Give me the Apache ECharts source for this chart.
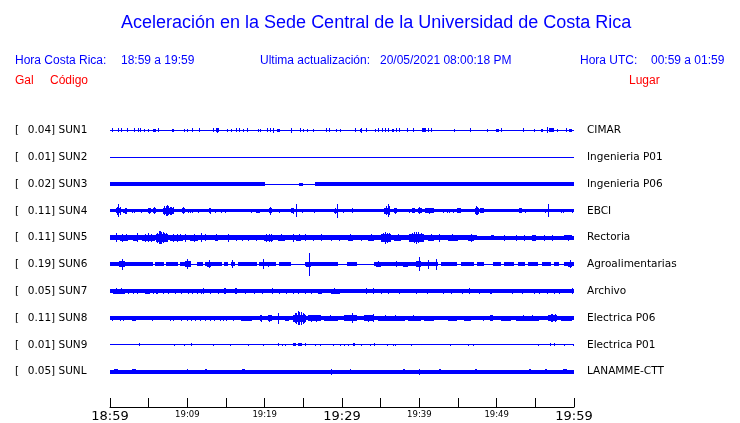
<!DOCTYPE html>
<html>
<head>
<meta charset="utf-8">
<script src="https://cdn.jsdelivr.net/npm/echarts@6/dist/echarts.min.js"></script>
<style>html,body{margin:0;padding:0;background:#fff}#c{width:740px;height:423px}</style>
</head>
<body>
<div id="c"></div>
<script>
// ---------- data ----------
const traceCodes = ['SUN1','SUN2','SUN3','SUN4','SUN5','SUN6','SUN7','SUN8','SUN9','SUNL'];
const traceMax = ['0.04','0.01','0.02','0.11','0.11','0.19','0.05','0.11','0.01','0.05'];
const tracePlaces = ['CIMAR','Ingenieria P01','Ingenieria P06','EBCI','Rectoria','Agroalimentarias','Archivo','Electrica P06','Electrica P01','LANAMME-CTT'];
const timeTicks = ['18:59','','19:09','','19:19','','19:29','','19:39','','19:49','','19:59'];
const majorTicks = ['18:59','19:29','19:59'];

// base band per trace: [startMin, endMin, halfAmplitudeGal]
const baseSUN1 = [[0,60,0.008]];
const baseSUN2 = [[0,60,0.008]];
const baseSUN3 = [[0,20.0,0.03],[20.0,26.45,0.008],[26.45,60,0.03]];
const baseSUN4 = [[0,60,0.027]];
const baseSUN5 = [[0,47.5,0.038],[47.5,60,0.035]];
const baseSUN6 = [[0,60,0.008],[0,5.5,0.034],[5.8,7.0,0.028],[7.3,8.8,0.028],[9.1,10.4,0.028],[11.2,12.0,0.028],[12.3,14.5,0.028],[14.8,15.2,0.028],[15.7,16.2,0.028],[16.5,19.0,0.028],[19.3,21.5,0.028],[21.8,23.4,0.028],[25.2,29.5,0.028],[30.7,32.0,0.028],[34.1,42.4,0.028],[42.8,44.9,0.028],[45.4,47.1,0.028],[47.5,48.4,0.028],[49.5,50.5,0.028],[50.97,52.3,0.028],[52.7,53.6,0.028],[54.0,55.3,0.028],[55.9,57.0,0.028],[57.4,58.1,0.028],[58.7,60,0.028]];
const baseSUN7 = [[0,60,0.03]];
const baseSUN8 = [[0,17,0.028],[17,60,0.032]];
const baseSUN9 = [[0,60,0.008]];
const baseSUNL = [[0,60,0.028]];

// events: [minute, halfAmpGal] for spikes, [startMin, endMin, halfAmpGal] for bursts
const evSUN1 = [[0.3,0.032],[1.08,0.032],[1.38,0.032],[2.15,0.032],[3.1,0.032],[3.66,0.032],[3.91,0.032],[4.43,0.02],[4.86,0.024],[5.59,5.89,0.024],[6.15,0.032],[7.96,8.3,0.024],[9.59,0.024],[10.02,0.024],[10.62,0.032],[11.48,0.032],[13.33,0.032],[13.68,14.11,0.03],[13.9,0.04],[15.18,0.024],[15.61,0.024],[16.34,0.032],[16.69,0.032],[17.2,0.024],[17.76,0.032],[19.14,0.024],[19.44,0.024],[20.3,0.032],[20.73,0.032],[21.08,0.04],[21.63,21.94,0.024],[23.35,23.53,0.024],[23.45,0.04],[24.52,0.032],[24.95,0.024],[25.46,0.024],[26.24,0.024],[27.87,0.032],[28.3,0.032],[29.25,0.024],[29.68,29.9,0.024],[31.7,0.032],[32.39,32.56,0.024],[32.45,0.04],[33.12,0.032],[34.28,0.024],[34.71,0.032],[35.18,0.032],[35.57,0.032],[35.91,0.032],[36.47,36.69,0.024],[36.99,0.032],[37.33,0.032],[38.37,0.032],[39.14,0.032],[40.34,40.86,0.028],[41.16,0.032],[41.5,0.032],[44.52,0.024],[46.54,0.032],[48.69,0.024],[49.89,50.32,0.024],[50.62,0.032],[53.46,0.032],[54.84,0.024],[55.7,56.04,0.024],[56.47,0.045],[56.77,57.42,0.028],[57.0,0.035],[57.85,0.024],[58.92,0.032],[59.35,59.78,0.024]];
const evSUN2 = [];
const evSUN3 = [[24.5,25.0,0.026]];
const evSUN4 = [[0.77,1.42,0.04],[0.9,0.06],[1.08,0.105],[1.25,0.06],[1.72,2.24,0.035],[1.9,0.05],[2.1,0.045],[2.8,0.035],[3.14,0.035],[3.96,0.03],[4.86,5.29,0.04],[5.0,0.05],[5.59,5.89,0.04],[5.7,0.055],[6.9,8.3,0.045],[7.0,0.07],[7.2,0.08],[7.35,0.09],[7.5,0.075],[7.7,0.065],[7.9,0.06],[8.1,0.055],[9.33,9.76,0.04],[9.5,0.055],[10.1,0.035],[10.4,0.035],[10.6,0.035],[11.4,0.035],[12.8,13.1,0.04],[12.95,0.05],[13.55,0.035],[14.3,0.035],[14.9,0.035],[18.28,0.03],[18.9,19.35,0.035],[20.56,20.95,0.04],[20.7,0.065],[21.8,0.03],[23.35,23.8,0.04],[23.6,0.05],[24.09,0.105],[24.8,0.03],[26.37,0.03],[28.95,29.46,0.035],[29.1,0.05],[29.33,0.11],[30.1,0.035],[31.27,0.04],[35.48,36.26,0.045],[35.7,0.07],[35.91,0.1],[36.05,0.07],[36.77,37.1,0.04],[36.9,0.05],[38.6,0.035],[39.1,39.4,0.04],[39.8,40.3,0.042],[40.0,0.055],[40.7,41.9,0.04],[41.2,0.05],[43.0,0.035],[43.6,0.035],[43.9,0.035],[44.3,0.035],[44.9,45.4,0.038],[47.2,47.7,0.045],[47.35,0.07],[47.5,0.065],[47.9,48.4,0.04],[52.9,53.3,0.04],[53.7,0.03],[56.3,0.035],[56.7,0.1],[58.3,0.03],[58.6,0.03],[59.8,0.035]];
const evSUN5 = [[0.73,0.07],[1.29,2.37,0.048],[1.6,0.06],[2.1,0.055],[3.0,3.66,0.05],[3.44,0.075],[4.09,5.8,0.048],[4.5,0.06],[4.86,0.07],[5.3,0.06],[5.9,7.5,0.065],[6.1,0.08],[6.3,0.1],[6.45,0.105],[6.6,0.095],[6.8,0.085],[7.0,0.075],[7.2,0.07],[7.74,9.46,0.048],[8.1,0.06],[8.6,0.065],[9.0,0.055],[9.68,0.065],[10.3,11.4,0.048],[10.8,0.06],[11.83,0.075],[12.26,0.055],[13.55,13.98,0.045],[13.7,0.055],[15.27,0.06],[16.34,0.05],[17.08,0.05],[17.85,0.05],[18.9,0.05],[19.9,21.08,0.05],[20.2,0.06],[20.5,0.065],[20.8,0.06],[21.7,22.6,0.045],[22.1,0.055],[23.66,0.06],[24.1,24.7,0.045],[24.4,0.055],[25.16,0.055],[26.3,0.05],[27.3,0.055],[28.6,0.05],[29.6,0.05],[30.75,31.4,0.045],[31.0,0.055],[32.47,0.05],[33.3,34.2,0.045],[33.7,0.055],[35.05,36.34,0.06],[35.3,0.075],[35.57,0.095],[35.8,0.08],[36.1,0.07],[36.77,37.63,0.045],[37.2,0.055],[38.7,40.65,0.06],[39.0,0.07],[39.3,0.085],[39.57,0.095],[39.8,0.085],[40.2,0.07],[41.08,41.94,0.048],[41.5,0.055],[42.58,0.06],[43.66,44.95,0.045],[44.2,0.055],[46.24,47.1,0.05],[46.67,0.065],[49.25,49.68,0.042],[50.97,0.045],[52.47,0.045],[53.55,0.045],[54.6,55.05,0.045],[54.8,0.05],[56.13,0.045],[57.2,0.045],[58.7,59.8,0.042],[59.2,0.05]];
const evSUN6 = [[1.1,1.9,0.045],[1.5,0.085],[9.7,10.45,0.045],[10.0,0.08],[12.5,13.1,0.04],[12.8,0.06],[15.8,0.06],[19.8,0.08],[20.4,0.04],[25.4,26.0,0.04],[25.7,0.185],[34.4,35.0,0.04],[34.6,0.05],[37.0,0.05],[37.85,38.5,0.04],[39.6,40.2,0.045],[39.9,0.115],[41.1,0.07],[42.15,0.085],[59.2,59.8,0.04],[59.5,0.06]];
const evSUN7 = [[0.09,0.035],[0.43,1.94,0.038],[0.8,0.045],[1.4,0.045],[2.37,0.037],[3.0,0.037],[3.44,0.037],[4.5,5.16,0.038],[5.6,0.037],[6.0,6.24,0.038],[6.9,0.037],[7.5,0.037],[8.4,0.037],[9.16,0.037],[10.1,0.037],[10.6,0.037],[11.2,0.037],[11.8,0.037],[12.0,0.045],[12.9,0.037],[14.0,0.037],[14.8,15.05,0.045],[16.1,16.4,0.045],[17.4,0.037],[18.6,0.037],[19.6,0.037],[20.9,0.045],[21.9,0.037],[22.8,0.037],[23.65,0.037],[24.3,0.037],[25.2,0.037],[26.0,0.037],[26.9,27.4,0.038],[28.6,29.7,0.04],[29.0,0.045],[33.1,0.05],[34.0,0.05],[35.05,0.037],[35.9,0.037],[37.4,0.037],[39.6,0.037],[41.0,0.037],[43.0,0.04],[44.1,0.037],[45.5,0.037],[46.45,0.05],[47.7,0.037],[49.2,49.46,0.038],[52.0,0.037],[53.3,0.037],[54.8,0.037],[55.5,0.037],[56.5,0.037],[57.4,0.037],[58.1,0.037],[59.8,0.05]];
const evSUN8 = [[0.2,0.038],[1.3,0.038],[1.7,0.038],[2.8,3.3,0.038],[5.4,0.038],[7.7,0.038],[8.2,0.038],[9.2,0.038],[9.9,0.038],[10.45,0.038],[11.0,0.038],[11.6,0.038],[12.3,0.038],[12.9,0.038],[13.5,0.038],[14.2,0.038],[14.6,0.038],[15.05,0.038],[15.9,0.038],[17.0,18.3,0.038],[19.35,19.6,0.045],[19.5,0.055],[20.4,20.9,0.045],[20.6,0.055],[21.7,0.09],[22.6,23.2,0.04],[23.65,25.4,0.055],[23.9,0.08],[24.1,0.09],[24.3,0.115],[24.5,0.1],[24.7,0.1],[24.9,0.085],[25.1,0.07],[25.6,27.3,0.045],[26.0,0.055],[26.7,0.055],[27.7,29.5,0.042],[28.4,0.05],[30.3,32.0,0.045],[31.3,0.08],[32.9,34.2,0.045],[33.4,0.055],[34.0,0.065],[34.6,38.1,0.042],[35.5,0.05],[36.8,0.05],[38.5,40.2,0.042],[39.2,0.05],[40.6,41.9,0.04],[43.7,44.9,0.04],[45.8,46.7,0.04],[48.2,0.04],[49.2,49.5,0.05],[50.5,51.8,0.04],[52.5,55.5,0.042],[53.4,0.05],[54.6,0.05],[56.6,57.85,0.05],[57.0,0.06],[57.2,0.065],[57.5,0.06],[58.3,59.8,0.04]];
const evSUN9 = [[3.8,0.027],[8.3,0.012],[9.6,0.012],[10.5,0.022],[13.3,0.012],[15.5,0.012],[17.85,0.012],[19.8,0.012],[21.7,21.9,0.022],[22.2,0.016],[22.6,0.016],[23.6,24.0,0.022],[24.3,24.8,0.022],[25.2,0.02],[26.5,0.016],[27.1,0.012],[28.8,0.012],[29.8,0.012],[30.2,0.016],[30.75,0.016],[31.4,31.7,0.022],[32.4,0.012],[33.6,0.016],[34.1,0.02],[35.8,0.012],[36.6,0.012],[36.9,0.012],[38.9,0.012],[44.0,0.012],[46.3,0.016],[47.0,0.012],[55.3,0.012],[56.9,0.02],[57.4,0.02],[58.7,0.016],[59.9,0.016]];
const evSUNL = [[0.56,1.08,0.04],[1.4,0.035],[2.8,3.3,0.038],[3.8,0.035],[5.2,0.035],[5.6,0.035],[7.8,0.035],[9.6,0.035],[9.9,10.1,0.04],[12.1,0.035],[12.3,12.6,0.038],[14.6,0.035],[14.8,0.035],[17.1,17.4,0.04],[17.6,0.035],[19.5,0.035],[21.8,0.035],[23.3,0.035],[23.9,0.035],[25.2,0.035],[26.4,0.035],[28.6,28.7,0.05],[30.45,0.035],[31.0,31.2,0.038],[33.1,0.035],[33.4,0.035],[35.5,0.035],[35.9,0.035],[37.5,0.035],[37.85,38.15,0.04],[39.35,0.035],[39.9,0.05],[42.5,42.8,0.04],[45.1,0.035],[46.9,0.035],[47.2,47.4,0.038],[49.2,0.035],[49.6,0.035],[50.6,0.035],[51.4,0.035],[51.9,0.035],[54.2,54.4,0.038],[56.3,56.5,0.04],[58.6,59.1,0.04],[59.35,0.035]];

const bases = [baseSUN1,baseSUN2,baseSUN3,baseSUN4,baseSUN5,baseSUN6,baseSUN7,baseSUN8,baseSUN9,baseSUNL];
const events = [evSUN1,evSUN2,evSUN3,evSUN4,evSUN5,evSUN6,evSUN7,evSUN8,evSUN9,evSUNL];

// ---------- build ----------
const PX_PER_GAL = 63;
const BLUE = '#0000ff';
const items = [];
bases.forEach((segs, i) => segs.forEach(s => items.push([s[0], s[1], i, s[2]])));
events.forEach((evs, i) => evs.forEach(e => {
  if (e.length === 2) items.push([e[0], e[0], i, e[1]]);
  else items.push([e[0], e[1], i, e[2]]);
}));

const chart = echarts.init(document.getElementById('c'), null, {renderer: 'canvas'});
const hdr = {fontFamily: 'Liberation Sans', fontSize: 12, fill: BLUE};
const red = Object.assign({}, hdr, {fill: '#ff0000'});
function txt(x, y, text, style) {
  return {type: 'text', x: x, y: y, style: Object.assign({text: text, verticalAlign: 'middle', align: 'left'}, style)};
}
chart.setOption({
  animation: false,
  backgroundColor: '#fff',
  graphic: [
    txt(121, 23, 'Aceleración en la Sede Central de la Universidad de Costa Rica', {fontFamily: 'Liberation Sans', fontSize: 18, fill: BLUE}),
    txt(15, 61, 'Hora Costa Rica:', hdr),
    txt(121, 61, '18:59 a 19:59', hdr),
    txt(260, 61, 'Ultima actualización:', hdr),
    txt(380, 61, '20/05/2021 08:00:18 PM', hdr),
    txt(580, 61, 'Hora UTC:', hdr),
    txt(651, 61, '00:59 a 01:59', hdr),
    txt(15, 81, 'Gal', red),
    txt(50, 81, 'Código', red),
    txt(629, 81, 'Lugar', red)
  ],
  grid: {left: 110, top: 117, width: 464, height: 270, containLabel: false},
  xAxis: {
    type: 'value', min: 0, max: 60, interval: 5, offset: 22,
    splitLine: {show: false},
    axisLine: {show: true, lineStyle: {color: '#000', width: 1}},
    axisTick: {show: true, inside: true, length: 9, lineStyle: {color: '#000'}},
    axisLabel: {
      show: true, margin: 3, showMinLabel: true, showMaxLabel: true, hideOverlap: false,
      formatter: function (v) {
        const t = timeTicks[Math.round(v / 5)] || '';
        if (!t) return '';
        return majorTicks.indexOf(t) >= 0 ? '{big|' + t + '}' : '{small|' + t + '}';
      },
      rich: {
        big: {fontFamily: 'DejaVu Sans', fontSize: 13, color: '#000'},
        small: {fontFamily: 'DejaVu Sans', fontSize: 8.5, color: '#000'}
      }
    }
  },
  yAxis: [{
    type: 'category', data: traceCodes, inverse: true, position: 'left',
    axisLine: {show: false}, axisTick: {show: false}, splitLine: {show: false},
    axisLabel: {
      align: 'left', margin: 95,
      formatter: function (v, i) { return '{a|[}{b|' + traceMax[i] + '] ' + v + '}'; },
      rich: {
        a: {width: 12.7, fontFamily: 'DejaVu Sans', fontSize: 10.5, color: '#000'},
        b: {fontFamily: 'DejaVu Sans', fontSize: 10.5, color: '#000'}
      }
    }
  }, {
    type: 'category', data: tracePlaces, inverse: true, position: 'right',
    axisLine: {show: false}, axisTick: {show: false}, splitLine: {show: false},
    axisLabel: {align: 'left', margin: 13, fontFamily: 'DejaVu Sans', fontSize: 10.5, color: '#000'}
  }],
  series: [{
    type: 'custom',
    xAxisIndex: 0, yAxisIndex: 0,
    encode: {x: [0, 1], y: 2},
    data: items,
    renderItem: function (params, api) {
      const idx = api.value(2);
      const p0 = api.coord([api.value(0), idx]);
      const p1 = api.coord([api.value(1), idx]);
      const a = api.value(3) * PX_PER_GAL;
      const left = Math.round(p0[0]);
      const w = Math.max(1, Math.round(p1[0]) - left);
      const h = Math.max(1, Math.round(2 * a));
      const top = Math.round(p0[1] - h / 2);
      return {type: 'rect', shape: {x: left, y: top, width: w, height: h}, style: {fill: BLUE}};
    }
  }]
});
</script>
</body>
</html>
